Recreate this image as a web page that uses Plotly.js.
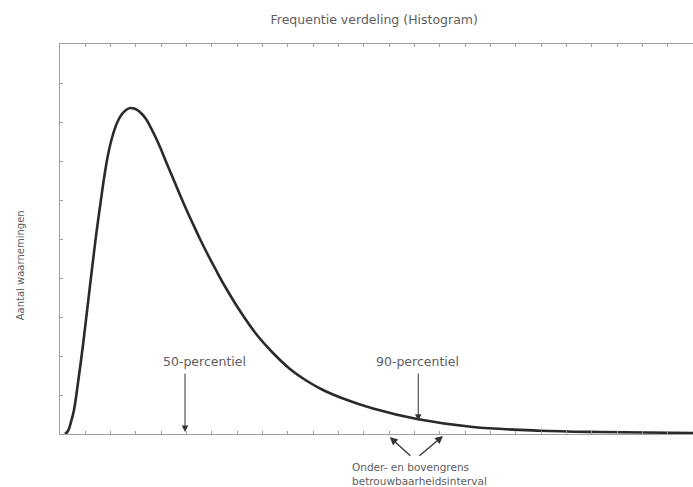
<!DOCTYPE html>
<html>
<head>
<meta charset="utf-8">
<script src="https://cdn.plot.ly/plotly-3.0.1.min.js"></script>
<style>
html,body{margin:0;padding:0;background:#fff;}
#chart{width:693px;height:487px;}
</style>
</head>
<body>
<div id="chart"></div>
<script>
const klasse = [0.79, 1.26, 1.74, 2.21, 2.84, 3.63, 4.27, 4.90, 5.69, 6.64, 7.11, 7.58, 8.21, 9.00, 9.79, 10.43, 11.06, 11.69, 12.32, 12.95, 13.59, 14.22, 15.01, 15.80, 16.90, 18.17, 18.96, 20.06, 21.01, 22.12, 23.22, 24.80, 26.07, 28.44, 31.12, 33.65, 36.33, 39.02, 41.55, 44.71, 49.45, 56.40, 65.24, 75.83, 85.31, 100];
const aantal = [0, 0.77, 3.08, 6.15, 13.08, 22.82, 31.54, 40.26, 50.77, 62.05, 67.18, 71.54, 75.90, 79.74, 82.05, 83.08, 83.59, 83.46, 82.95, 82.05, 80.77, 78.97, 76.41, 73.59, 69.23, 64.36, 61.28, 57.18, 53.85, 50.00, 46.41, 41.54, 37.82, 31.54, 25.38, 20.77, 16.67, 13.59, 11.28, 9.10, 6.54, 3.85, 1.79, 0.85, 0.51, 0.26];

const percentielLabels = ["50-percentiel", "90-percentiel"];
const percentielX = [19.75, 56.6];
const percentielKop = [0.5, 3.4];
const percentielLabelX = [22.9, 56.5];

const intervalGrenzen = [52.1, 60.5];
const intervalTekst = ["Onder- en bovengrens", "betrouwbaarheidsinterval"];

const titel = "Frequentie verdeling (Histogram)";
const yTitel = "Aantal waarnemingen";

const grey = "#5e5e5e";
const fam = "DejaVu Sans, Arial, sans-serif";

const annotations = [];
percentielLabels.forEach((lab, i) => {
  annotations.push({x: percentielLabelX[i], y: 18.5, xref: "x", yref: "y", text: lab,
    showarrow: false, font: {family: fam, size: 12.5, color: grey}, xanchor: "center", yanchor: "middle"});
  annotations.push({x: percentielX[i], y: percentielKop[i], xref: "x", yref: "y",
    axref: "x", ayref: "y", ax: percentielX[i], ay: 15.9, text: "",
    showarrow: true, arrowhead: 2, arrowsize: 1.3, arrowwidth: 1, arrowcolor: "#333"});
});
// interval arrows (below axis)
annotations.push({x: intervalGrenzen[0], y: -0.008, xref: "x", yref: "paper", text: "",
  showarrow: true, ax: 22, ay: 20, arrowhead: 2, arrowsize: 1.2, arrowwidth: 1.3, arrowcolor: "#333"});
annotations.push({x: intervalGrenzen[1], y: -0.005, xref: "x", yref: "paper", text: "",
  showarrow: true, ax: -25, ay: 21, arrowhead: 2, arrowsize: 1.2, arrowwidth: 1.3, arrowcolor: "#333"});
annotations.push({x: 45.8, y: -0.0846, xref: "x", yref: "paper", text: intervalTekst[0],
  showarrow: false, font: {family: fam, size: 10.5, color: grey}, xanchor: "left", yanchor: "middle"});
annotations.push({x: 45.8, y: -0.1205, xref: "x", yref: "paper", text: intervalTekst[1],
  showarrow: false, font: {family: fam, size: 10.5, color: grey}, xanchor: "left", yanchor: "middle"});
// y title
annotations.push({x: -0.063, y: 0.433, xref: "paper", yref: "paper", text: yTitel, textangle: -90,
  showarrow: false, font: {family: fam, size: 10, color: grey}, xanchor: "center", yanchor: "middle"});

const trace = {
  x: klasse, y: aantal, type: "scatter", mode: "lines",
  line: {color: "#2a2a2a", width: 2.6, shape: "spline", smoothing: 1},
  hoverinfo: "skip", cliponaxis: false
};

const layout = {
  width: 693, height: 487,
  margin: {l: 60, r: 0, t: 44, b: 53, pad: 0},
  paper_bgcolor: "#fff", plot_bgcolor: "#fff",
  showlegend: false,
  title: {text: titel, font: {family: fam, size: 12.5, color: grey}, x: 0.54, xanchor: "center", y: 0.96, yanchor: "middle"},
  xaxis: {range: [0, 100], showgrid: false, zeroline: false, showline: true, mirror: "ticks",
    linecolor: "#a0a0a0", linewidth: 1, ticks: "inside", ticklen: 3, tickcolor: "#a0a0a0",
    dtick: 4, tick0: 0, showticklabels: false, fixedrange: true},
  yaxis: {range: [0, 100], showgrid: false, zeroline: false, showline: true, mirror: false,
    linecolor: "#a0a0a0", linewidth: 1, ticks: "inside", ticklen: 3, tickcolor: "#a0a0a0",
    dtick: 10, tick0: 0, showticklabels: false, fixedrange: true},
  annotations: annotations,
  font: {family: fam, size: 11, color: grey}
};

Plotly.newPlot("chart", [trace], layout, {staticPlot: true, displayModeBar: false});
</script>
</body>
</html>
